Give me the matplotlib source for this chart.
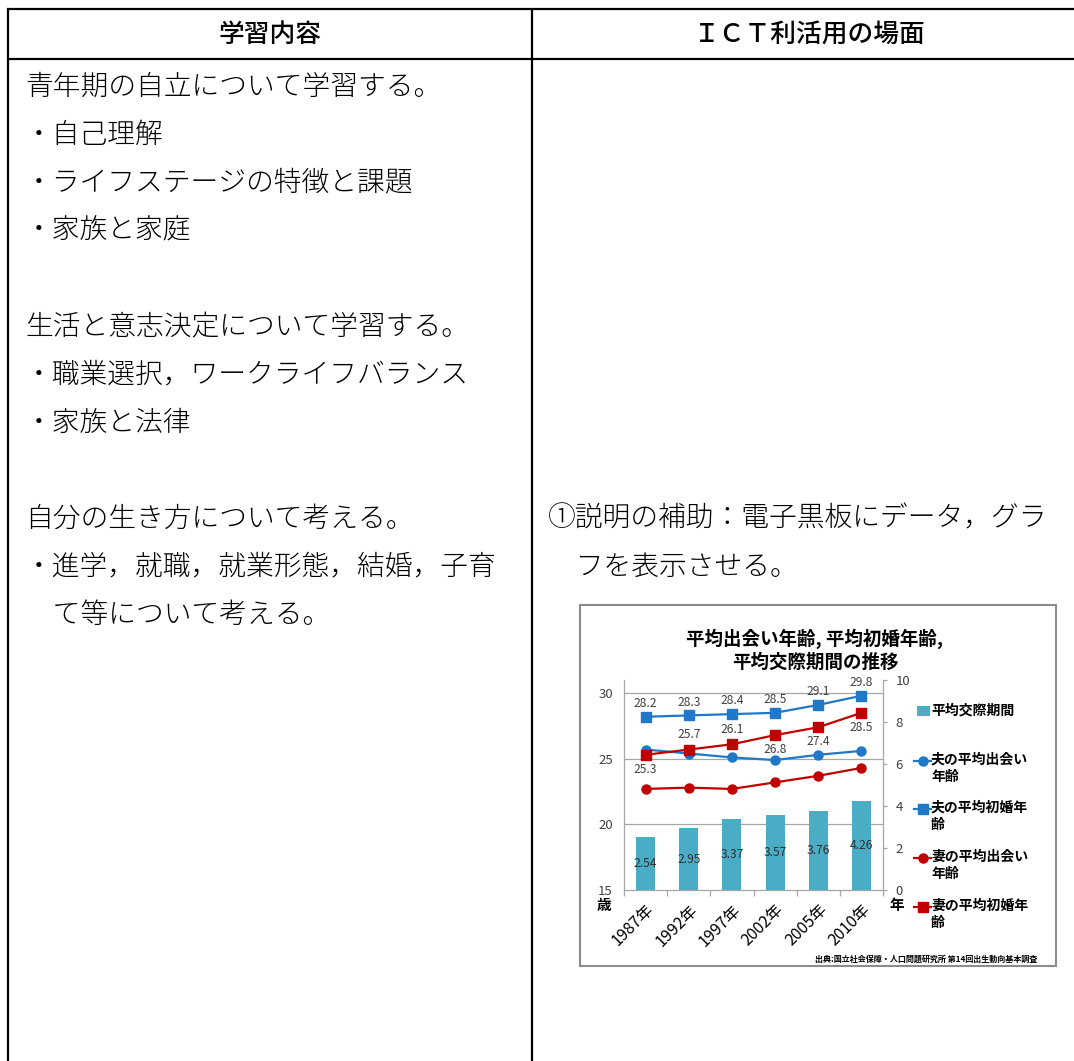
import matplotlib
matplotlib.use('Agg')
import matplotlib.pyplot as plt
from matplotlib.lines import Line2D
from matplotlib.patches import Rectangle
import numpy as np

plt.rcParams['font.family'] = ['Noto Sans CJK JP', 'DejaVu Sans']

# ---------------- table texts ----------------
header_left = '学習内容'
header_right = 'ＩＣＴ利活用の場面'
left_lines = ['青年期の自立について学習する。', '・自己理解', '・ライフステージの特徴と課題',
              '・家族と家庭', '', '生活と意志決定について学習する。',
              '・職業選択，ワークライフバランス', '・家族と法律', '',
              '自分の生き方について考える。', '・進学，就職，就業形態，結婚，子育',
              '　て等について考える。']
right_lines = ['①説明の補助：電子黒板にデータ，グラ', '　フを表示させる。']

# ---------------- chart data ----------------
years = ['1987年', '1992年', '1997年', '2002年', '2005年', '2010年']
period = [2.54, 2.95, 3.37, 3.57, 3.76, 4.26]          # 平均交際期間 (年)
husband_meet = [25.7, 25.4, 25.1, 24.9, 25.3, 25.6]    # 夫の平均出会い年齢
husband_marry = [28.2, 28.3, 28.4, 28.5, 29.1, 29.8]   # 夫の平均初婚年齢
wife_meet = [22.7, 22.8, 22.7, 23.2, 23.7, 24.3]       # 妻の平均出会い年齢
wife_marry = [25.3, 25.7, 26.1, 26.8, 27.4, 28.5]      # 妻の平均初婚年齢
series_names = ['平均交際期間', '夫の平均出会い\n年齢', '夫の平均初婚年\n齢',
                '妻の平均出会い\n年齢', '妻の平均初婚年\n齢']
chart_title = '平均出会い年齢, 平均初婚年齢,\n平均交際期間の推移'
left_unit = '歳'
right_unit = '年'
source = '出典:国立社会保障・人口問題研究所 第14回出生動向基本調査'
left_ticks = [15, 20, 25, 30]
right_ticks = [0, 2, 4, 6, 8, 10]

# label placement (style): +1 above, -1 below
wife_marry_side = [-1, 1, 1, -1, -1, -1]

W, H = 1074, 1061
fig = plt.figure(figsize=(W / 100, H / 100), dpi=100)
fig.patch.set_facecolor('white')


def fx(x):
    return x / W


def fy(y):
    return 1 - y / H


def line(xs, ys, lw=1.6, color='black', z=5):
    fig.add_artist(Line2D([fx(v) for v in xs], [fy(v) for v in ys], lw=lw, color=color,
                          transform=fig.transFigure, solid_capstyle='butt', zorder=z))


# table borders
line([7, 1074], [9, 9])
line([7, 1074], [59, 59])
line([8, 8], [8, 1061])
line([532, 532], [8, 1061])

# headers
fig.text(fx(270), fy(34), header_left, ha='center', va='center', fontsize=18.5,
         fontweight='medium', color='black')
fig.text(fx(810), fy(34), header_right, ha='center', va='center', fontsize=18.5,
         fontweight='medium', color='black')

EM = 20
base_off = 0.38 * EM * 100 / 72
for i, t in enumerate(left_lines):
    if t:
        fig.text(fx(25), fy(84 + 48 * i + base_off), t, ha='left', va='baseline',
                 fontsize=EM, fontweight='light', color='black')
for i, t in enumerate(right_lines):
    fig.text(fx(548), fy(84 + 48 * (9 + i) + base_off), t, ha='left', va='baseline',
             fontsize=EM, fontweight='light', color='black')

# chart frame
fig.add_artist(Rectangle((fx(580), fy(966)), fx(1056) - fx(580), fy(605) - fy(966),
                         transform=fig.transFigure, facecolor='white', edgecolor='#8c8c8c',
                         lw=1.5, zorder=-5))

fig.text(fx(815), fy(650), chart_title, ha='center', va='center', fontsize=13.3,
         fontweight='bold', linespacing=1.25, color='black')

BLUE = '#1F78C8'
RED = '#C00000'
BAR = '#4BACC6'
GRID = '#A6A6A6'
LBL = '#404040'

rect = [fx(624), fy(890), (883 - 624) / W, (890 - 680) / H]
x = np.arange(len(years))

ax_bg = fig.add_axes(rect, zorder=1)
ax_bg.set_xlim(-0.5, len(years) - 0.5)
ax_bg.set_ylim(15, 31)
ax_bg.set_yticks(left_ticks)
for v in left_ticks[1:]:
    ax_bg.axhline(v, color=GRID, lw=0.9, zorder=0)
for s in ['top', 'right']:
    ax_bg.spines[s].set_visible(False)
for s in ['left', 'bottom']:
    ax_bg.spines[s].set_color(GRID)
    ax_bg.spines[s].set_linewidth(0.9)
ax_bg.set_xticks(x, years, rotation=45, ha='right', rotation_mode='anchor', fontsize=11.5)
ax_bg.set_xticks(np.arange(-0.5, len(years), 1), minor=True)
ax_bg.tick_params(axis='x', which='major', length=0, pad=8, labelcolor='black')
ax_bg.tick_params(axis='x', which='minor', length=4, color=GRID, width=0.9)
ax_bg.tick_params(axis='y', length=0, pad=8, labelsize=9.5, labelcolor=LBL)

ax_bar = ax_bg.twinx()
ax_bar.set_zorder(2)
ax_bar.patch.set_visible(False)
ax_bar.set_ylim(0, 10)
ax_bar.set_yticks(right_ticks)
for s in ['top', 'left', 'bottom']:
    ax_bar.spines[s].set_visible(False)
ax_bar.spines['right'].set_color(GRID)
ax_bar.spines['right'].set_linewidth(0.9)
ax_bar.tick_params(axis='y', length=3, color=GRID, width=0.9, pad=6, labelsize=9.5,
                   labelcolor=LBL)
bars = ax_bar.bar(x, period, width=0.44, color=BAR, zorder=2)
ax_bar.bar_label(bars, labels=[f'{v:.2f}' for v in period], label_type='center',
                 fontsize=8.7, color='#303030')

ax_line = fig.add_axes(rect, zorder=3, sharex=ax_bg, sharey=ax_bg)
ax_line.axis('off')
ax_line.patch.set_visible(False)
ax_line.plot(x, husband_meet, color=BLUE, marker='o', ms=6.5, lw=1.6)
ax_line.plot(x, husband_marry, color=BLUE, marker='s', ms=6.8, lw=1.6)
ax_line.plot(x, wife_meet, color=RED, marker='o', ms=6.5, lw=1.6)
ax_line.plot(x, wife_marry, color=RED, marker='s', ms=6.8, lw=1.6)
for i, v in enumerate(husband_marry):
    ax_line.annotate(f'{v}', (x[i], v), xytext=(0, 9.5), textcoords='offset points',
                     ha='center', va='center', fontsize=8.7, color=LBL)
for i, v in enumerate(wife_marry):
    ax_line.annotate(f'{v}', (x[i], v), xytext=(0, 10.5 * wife_marry_side[i]),
                     textcoords='offset points', ha='center', va='center', fontsize=8.7,
                     color=LBL)

# axis unit labels
fig.text(fx(604), fy(905), left_unit, ha='center', va='center', fontsize=10.5, fontweight='bold')
fig.text(fx(897), fy(905), right_unit, ha='center', va='center', fontsize=10.5, fontweight='bold')

# legend
leg_y = [711, 760, 808, 857, 906]
styles = [None, (BLUE, 'o'), (BLUE, 's'), (RED, 'o'), (RED, 's')]
for name, yy, st in zip(series_names, leg_y, styles):
    if st is None:
        fig.add_artist(Rectangle((fx(917), fy(yy + 5)), fx(930) - fx(917), fy(yy - 5) - fy(yy + 5),
                                 transform=fig.transFigure, facecolor=BAR, edgecolor='none',
                                 zorder=5))
    else:
        c, m = st
        fig.add_artist(Line2D([fx(914), fx(931)], [fy(yy + 1), fy(yy + 1)], lw=1.6, color=c,
                              transform=fig.transFigure, zorder=5))
        fig.add_artist(Line2D([fx(922.5)], [fy(yy + 1)], lw=0, marker=m, ms=6.5, color=c,
                              transform=fig.transFigure, zorder=6))
    for k, part in enumerate(name.split('\n')):
        fig.text(fx(931), fy(yy + 17 * k), part, ha='left', va='center', fontsize=10,
                 fontweight='bold', color='black')

fig.text(fx(1037), fy(959), source, ha='right', va='center', fontsize=5.8,
         fontweight='bold', color='black')

fig.savefig('out.png', dpi=100)
